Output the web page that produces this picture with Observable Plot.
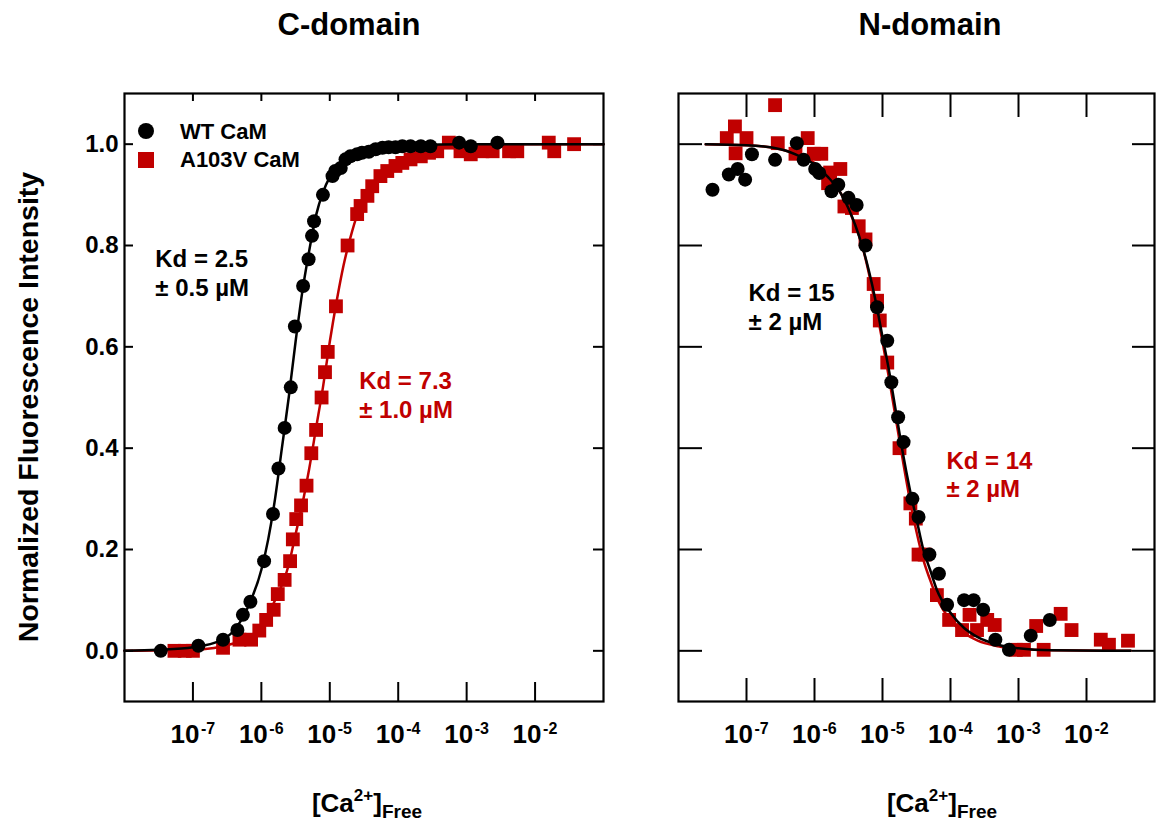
<!DOCTYPE html>
<html><head><meta charset="utf-8">
<script src="https://cdn.jsdelivr.net/npm/d3@7"></script>
<script src="https://cdn.jsdelivr.net/npm/@observablehq/plot@0.6"></script>
<style>
body{margin:0;background:#fff;}
#chart{position:relative;width:1156px;height:823px;overflow:hidden;background:#fff;font-family:"Liberation Sans",Arial,sans-serif;}
#chart svg{position:absolute;top:0;}
</style></head><body><div id="chart"></div>
<script>
// ---------- data (x as log10 of [Ca2+]free in M, y = normalized fluorescence) ----------
const cWtLog = [-7.47,-6.92,-6.56,-6.35,-6.27,-6.16,-5.96,-5.83,-5.75,-5.66,-5.57,-5.51,-5.39,-5.31,-5.26,-5.23,-5.10,-4.96,-4.92,-4.84,-4.77,-4.70,-4.60,-4.53,-4.43,-4.33,-4.23,-4.14,-4.04,-3.94,-3.82,-3.67,-3.53,-3.11,-2.94,-2.55];
const cWtF   = [0.00,0.01,0.022,0.041,0.071,0.097,0.177,0.27,0.36,0.44,0.52,0.64,0.72,0.773,0.819,0.848,0.90,0.937,0.947,0.953,0.97,0.976,0.98,0.983,0.985,0.99,0.993,0.994,0.994,0.996,0.996,0.996,0.996,1.003,0.996,1.003];

const cMutLog = [-7.27,-7.12,-7.00,-6.56,-6.32,-6.15,-6.03,-5.93,-5.82,-5.76,-5.66,-5.58,-5.54,-5.49,-5.42,-5.34,-5.27,-5.20,-5.12,-5.07,-5.03,-4.91,-4.74,-4.60,-4.55,-4.45,-4.38,-4.26,-4.16,-4.04,-3.94,-3.82,-3.67,-3.55,-3.43,-3.26,-3.09,-2.94,-2.77,-2.62,-2.38,-2.26,-1.80,-1.72,-1.43];
const cMutF   = [0.0,0.0,0.0,0.006,0.022,0.022,0.04,0.061,0.081,0.112,0.14,0.177,0.22,0.26,0.287,0.326,0.39,0.436,0.50,0.55,0.59,0.68,0.80,0.862,0.878,0.898,0.917,0.937,0.947,0.957,0.963,0.97,0.976,0.983,0.986,1.003,0.986,0.98,0.986,0.986,0.986,0.986,1.003,0.986,1.0];

const nWtLog = [-7.50,-7.26,-7.13,-7.02,-6.92,-6.58,-6.26,-6.16,-5.99,-5.93,-5.75,-5.65,-5.50,-5.38,-5.25,-5.08,-4.93,-4.87,-4.77,-4.69,-4.56,-4.47,-4.31,-4.17,-4.05,-3.80,-3.66,-3.52,-3.34,-3.14,-2.82,-2.54];
const nWtF   = [0.91,0.94,0.951,0.93,0.98,0.969,1.002,0.969,0.951,0.943,0.907,0.92,0.894,0.88,0.80,0.678,0.612,0.53,0.461,0.412,0.30,0.264,0.19,0.152,0.091,0.10,0.10,0.081,0.022,0.002,0.03,0.061];

const nMutLog = [-7.29,-7.17,-7.16,-7.00,-6.58,-6.54,-6.28,-6.10,-6.01,-5.90,-5.80,-5.77,-5.62,-5.56,-5.45,-5.35,-5.25,-5.13,-5.08,-5.04,-4.93,-4.75,-4.59,-4.51,-4.47,-4.38,-4.20,-4.02,-3.83,-3.72,-3.61,-3.46,-3.35,-3.04,-2.92,-2.74,-2.63,-2.38,-2.22,-1.79,-1.67,-1.39];
const nMutF   = [1.012,1.035,0.982,1.012,1.077,1.002,0.981,1.012,0.981,0.981,0.923,0.944,0.951,0.877,0.874,0.838,0.812,0.724,0.691,0.652,0.569,0.40,0.291,0.261,0.19,0.19,0.11,0.061,0.041,0.071,0.041,0.061,0.051,0.002,0.002,0.049,0.002,0.073,0.041,0.022,0.012,0.02];

// fitted curves
const cWtFitLog = [-8,-7.5,-7,-6.6,-6.4,-6.2,-6.0,-5.9,-5.8,-5.7,-5.6,-5.5,-5.4,-5.3,-5.2,-5.1,-5.0,-4.9,-4.7,-4.5,-4.2,-3.8,-3,-1];
const cWtFitF   = [0,0.002,0.007,0.02,0.04,0.085,0.16,0.22,0.30,0.40,0.50,0.61,0.71,0.79,0.86,0.905,0.935,0.955,0.975,0.986,0.994,0.998,1.0,1.0];
const cMutFitLog = [-8,-7,-6.6,-6.3,-6.0,-5.8,-5.6,-5.5,-5.4,-5.3,-5.2,-5.1,-5.0,-4.9,-4.8,-4.7,-4.6,-4.5,-4.4,-4.3,-4.1,-3.9,-3.6,-3.2,-2.5,-1];
const cMutFitF   = [0,0.002,0.008,0.02,0.05,0.1,0.17,0.23,0.29,0.36,0.44,0.52,0.61,0.69,0.76,0.815,0.86,0.89,0.915,0.935,0.96,0.975,0.988,0.995,1.0,1.0];
const nWtFitLog = [-7.6,-7,-6.5,-6.2,-6.0,-5.8,-5.6,-5.4,-5.3,-5.2,-5.1,-5.0,-4.9,-4.8,-4.7,-4.6,-4.5,-4.4,-4.3,-4.2,-4.0,-3.8,-3.6,-3.3,-3.0,-2.5,-1.35];
const nWtFitF   = [1.0,0.998,0.99,0.975,0.96,0.935,0.9,0.84,0.8,0.75,0.69,0.62,0.55,0.47,0.39,0.32,0.26,0.2,0.16,0.12,0.075,0.045,0.027,0.012,0.005,0.001,0.0];
const nMutFitLog = [-7.6,-7,-6.5,-6.2,-6.0,-5.8,-5.6,-5.4,-5.3,-5.2,-5.1,-5.0,-4.9,-4.8,-4.7,-4.6,-4.5,-4.4,-4.3,-4.2,-4.0,-3.8,-3.6,-3.3,-3.0,-2.5,-1.35];
const nMutFitF   = [1.0,0.998,0.99,0.977,0.963,0.94,0.9,0.84,0.8,0.745,0.68,0.61,0.535,0.455,0.375,0.3,0.235,0.18,0.14,0.105,0.06,0.035,0.02,0.009,0.004,0.001,0.0];

const yTicks = [0, 0.2, 0.4, 0.6, 0.8, 1.0];
const xTicks = [1e-7, 1e-6, 1e-5, 1e-4, 1e-3, 1e-2];
const panelTitles = ["C-domain", "N-domain"];
const seriesNames = ["WT CaM", "A103V CaM"];
// Kd annotations: [text, log10 x, y of last line]
const cWtNote = ["Kd = 2.5\n± 0.5 µM", -7.55, 0.701];
const cMutNote = ["Kd = 7.3\n± 1.0 µM", -4.57, 0.459];
const nWtNote = ["Kd = 15\n± 2 µM", -6.97, 0.634];
const nMutNote = ["Kd = 14\n± 2 µM", -4.06, 0.303];

const RED = "#c00000";
const FONT = "Liberation Sans, Arial, sans-serif";
const rows = (xs, ys) => xs.map((v, i) => ({ca: 10 ** v, f: ys[i]}));
const noteRow = n => [{text: n[0], ca: 10 ** n[1], f: n[2]}];

function panel({wt, mut, wtFit, mutFit, wtNote, mutNote, width, ml, mr, tk, yLabels}) {
  const marks = [
    Plot.line(mutFit, {x: "ca", y: "f", stroke: RED, strokeWidth: 2.5, curve: "monotone-x"}),
    Plot.dot(mut, {x: "ca", y: "f", symbol: "square", r: 7.8, fill: RED}),
    Plot.line(wtFit, {x: "ca", y: "f", stroke: "black", strokeWidth: 2.5, curve: "monotone-x"}),
    Plot.dot(wt, {x: "ca", y: "f", r: 7, fill: "black"}),
    Plot.text(noteRow(wtNote), {x: "ca", y: "f", text: "text", textAnchor: "start", lineAnchor: "bottom", lineHeight: 1.2, fontSize: 24, fontWeight: "bold", fill: "black"}),
    Plot.text(noteRow(mutNote), {x: "ca", y: "f", text: "text", textAnchor: "start", lineAnchor: "bottom", lineHeight: 1.2, fontSize: 24, fontWeight: "bold", fill: RED}),
    Plot.frame({stroke: "black", strokeWidth: 2.2}),
    Plot.axisY(yTicks, {anchor: "left", tickSize: tk.l, dx: tk.l, fill: "none", strokeWidth: 2, label: null}),
    Plot.axisY(yTicks, {anchor: "right", tickSize: tk.r, dx: -tk.r, fill: "none", strokeWidth: 2, label: null}),
    Plot.axisX(xTicks, {anchor: "bottom", tickSize: tk.b, dy: -tk.b, fill: "none", strokeWidth: 2, label: null}),
    Plot.axisX(xTicks, {anchor: "top", tickSize: tk.t, dy: tk.t, fill: "none", strokeWidth: 2, label: null}),
    Plot.text(xTicks, {x: d => d, text: () => "10", frameAnchor: "bottom", dy: 41, dx: -8, fontSize: 26, fontWeight: "bold"}),
    Plot.text(xTicks, {x: d => d, text: d => String(Math.round(Math.log10(d))), frameAnchor: "bottom", dy: 32, dx: 8, textAnchor: "start", fontSize: 16, fontWeight: "bold"})
  ];
  if (yLabels) marks.push(Plot.axisY(yTicks, {anchor: "left", tickSize: 0, tickPadding: 6, tickFormat: d3.format(".1f"), fontSize: 24, fontWeight: "bold", label: null}));
  return Plot.plot({
    width, height: 823, marginLeft: ml, marginRight: mr, marginTop: 93, marginBottom: 122,
    style: {background: "transparent", fontFamily: FONT, color: "black"},
    x: {type: "log", domain: [1e-8, 1e-1], label: null},
    y: {domain: [-0.1, 1.1], label: null},
    marks
  });
}

const chart = document.getElementById("chart");
const left = panel({wt: rows(cWtLog, cWtF), mut: rows(cMutLog, cMutF), wtFit: rows(cWtFitLog, cWtFitF), mutFit: rows(cMutFitLog, cMutFitF),
  wtNote: cWtNote, mutNote: cMutNote, width: 620, ml: 124, mr: 17, tk: {l: 9, r: 11, b: 19, t: 7}, yLabels: true});
left.style.left = "0px";
chart.appendChild(left);
const right = panel({wt: rows(nWtLog, nWtF), mut: rows(nMutLog, nMutF), wtFit: rows(nWtFitLog, nWtFitF), mutFit: rows(nMutFitLog, nMutFitF),
  wtNote: nWtNote, mutNote: nMutNote, width: 536, ml: 58, mr: 2, tk: {l: 24, r: 23, b: 23, t: 23}, yLabels: false});
right.style.left = "620px";
chart.appendChild(right);

// overlay: titles, axis titles, legend
const ov = d3.select(chart).append("svg").attr("width", 1156).attr("height", 823)
  .style("left", "0px").style("pointer-events", "none").attr("font-family", FONT).attr("font-weight", "bold");
ov.append("text").attr("x", 349).attr("y", 35).attr("text-anchor", "middle").attr("font-size", 31).text(panelTitles[0]);
ov.append("text").attr("x", 930).attr("y", 35).attr("text-anchor", "middle").attr("font-size", 31).text(panelTitles[1]);
ov.append("text").attr("transform", "translate(38,407) rotate(-90)").attr("text-anchor", "middle").attr("font-size", 28.5).text("Normalized Fluorescence Intensity");
[367, 942].forEach(cx => {
  const t = ov.append("text").attr("x", cx).attr("y", 812).attr("text-anchor", "middle").attr("font-size", 26);
  t.append("tspan").text("[Ca");
  t.append("tspan").attr("font-size", 17).attr("dy", -11).text("2+");
  t.append("tspan").attr("dy", 11).text("]");
  t.append("tspan").attr("font-size", 19).attr("dy", 6).text("Free");
});
ov.append("circle").attr("cx", 146).attr("cy", 131).attr("r", 8).attr("fill", "black");
ov.append("rect").attr("x", 138).attr("y", 152).attr("width", 16).attr("height", 16).attr("fill", RED);
ov.append("text").attr("x", 180).attr("y", 139).attr("font-size", 22).text(seriesNames[0]);
ov.append("text").attr("x", 180).attr("y", 167).attr("font-size", 22).text(seriesNames[1]);
</script></body></html>
